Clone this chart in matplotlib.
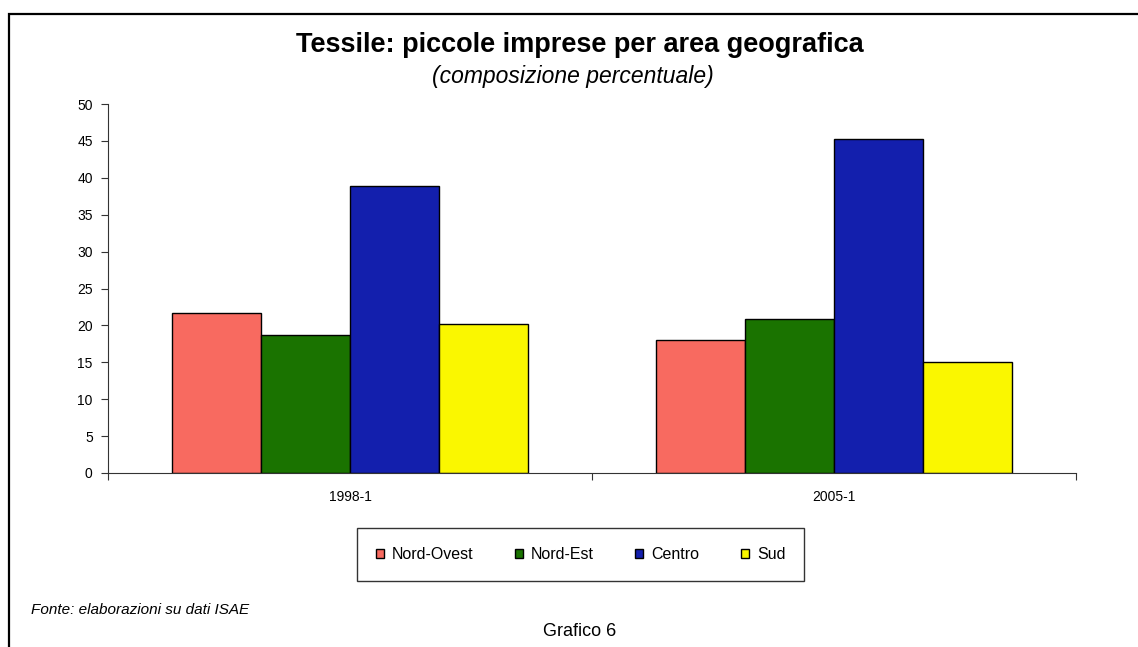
"""Tessile: piccole imprese per area geografica (composizione percentuale)."""

import matplotlib.pyplot as plt
import numpy as np
from matplotlib.patches import Rectangle

plt.rcParams["font.family"] = ["Liberation Sans", "DejaVu Sans"]

periodi = ["1998-1", "2005-1"]
aree = ["Nord-Ovest", "Nord-Est", "Centro", "Sud"]
nord_ovest = [21.7, 18.0]
nord_est = [18.7, 20.9]
centro = [38.9, 45.2]
sud = [20.2, 15.0]
colori = ["#F86A60", "#1A7300", "#131FAD", "#FAF700"]

fig = plt.figure(figsize=(11.38, 6.47), dpi=100)
ax = fig.add_axes([108 / 1138, 1 - 473 / 647, 968 / 1138, 369 / 647])

x = np.arange(len(periodi))
w = 0.184
serie = [nord_ovest, nord_est, centro, sud]
for i, (vals, nome, col) in enumerate(zip(serie, aree, colori)):
    ax.bar(x + (i - 1.5) * w, vals, w, color=col, edgecolor="black",
           linewidth=1, label=nome)

ax.set_xlim(-0.5, 1.5)
ax.set_ylim(0, 50)
ax.set_yticks(range(0, 51, 5))
ax.set_xticks([-0.5, 0.5, 1.5], minor=False)
ax.set_xticklabels([])
ax.set_xticks(x, minor=True)
ax.set_xticklabels(periodi, minor=True)
ax.tick_params(axis="x", which="minor", length=0, pad=12, labelsize=10)
ax.tick_params(axis="x", which="major", length=5, color="#333333")
ax.tick_params(axis="y", length=5, color="#333333", labelsize=10, pad=6)
for s in ["top", "right"]:
    ax.spines[s].set_visible(False)
for s in ["left", "bottom"]:
    ax.spines[s].set_color("#333333")

fig.text(580 / 1138, 1 - 45 / 647, "Tessile: piccole imprese per area geografica",
         ha="center", va="center", fontsize=19.5, fontweight="bold")
fig.text(573 / 1138, 1 - 76 / 647, "(composizione percentuale)",
         ha="center", va="center", fontsize=16.5, style="italic")

leg = fig.legend(loc="center", bbox_to_anchor=(580.5 / 1138, 1 - 554.5 / 647),
                 ncol=4, frameon=True, fancybox=False, fontsize=11.5,
                 handlelength=0.5, handleheight=0.5, handletextpad=0.5,
                 columnspacing=2.6, borderpad=1.2, borderaxespad=0)
leg.get_frame().set_edgecolor("black")
leg.get_frame().set_linewidth(1)

fig.text(31 / 1138, 1 - 610 / 647, "Fonte: elaborazioni su dati ISAE",
         ha="left", va="center", fontsize=11, style="italic")
fig.text(580 / 1138, 1 - 631 / 647, "Grafico 6",
         ha="center", va="center", fontsize=13)

fig.patches.append(Rectangle((9 / 1138, -0.1), 1.2, 1 - 14 / 647 + 0.1,
                             transform=fig.transFigure, fill=False,
                             edgecolor="black", linewidth=1.6))

plt.savefig("out.png", dpi=100)
plt.close()
